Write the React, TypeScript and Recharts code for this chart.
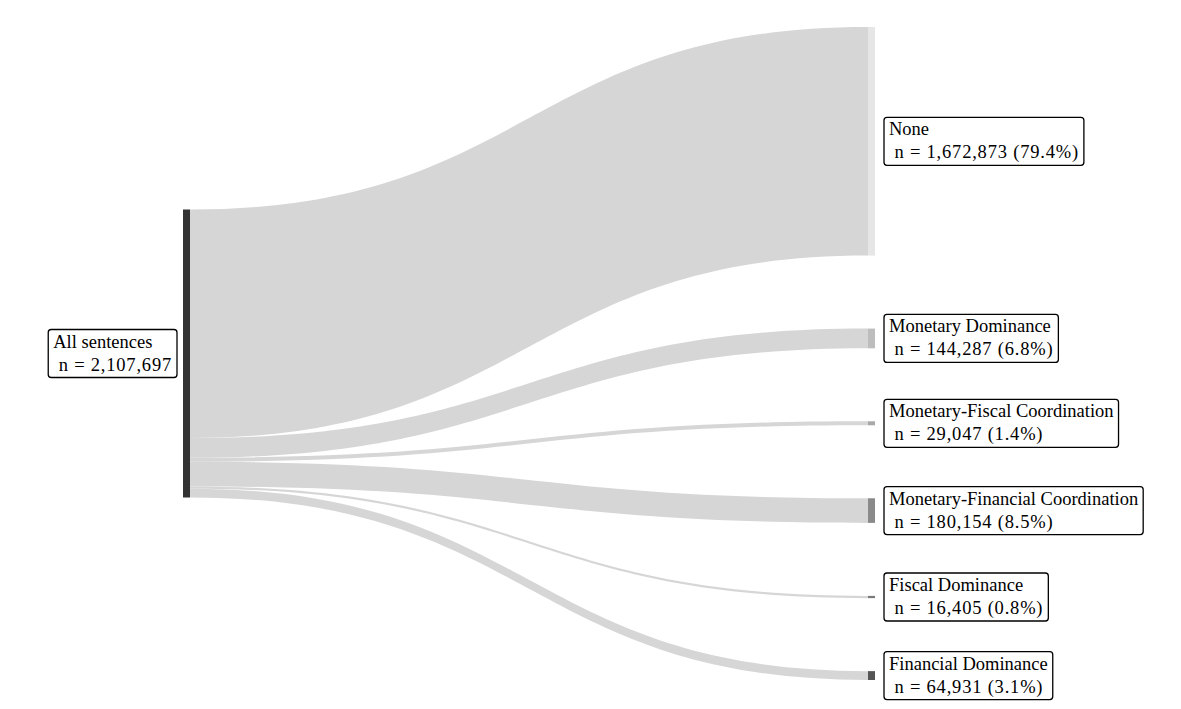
import { useLayoutEffect, useRef, useState } from 'react';
import { Sankey } from 'recharts';

const SOURCE = 'All sentences';
const CATEGORIES = [
	'None',
	'Monetary Dominance',
	'Monetary-Fiscal Coordination',
	'Monetary-Financial Coordination',
	'Fiscal Dominance',
	'Financial Dominance',
];
const COUNTS = [1672873, 144287, 29047, 180154, 16405, 64931];

// source first, then the categories in order
const NODE_COLORS = ['#333333', '#e6e6e6', '#bdbdbd', '#a8a8a8', '#8a8a8a', '#7a7a7a', '#555555'];
const LINK_COLOR = '#d6d6d6';

const WIDTH = 1165;
const HEIGHT = 693;
const MARGIN = { top: 19, right: 298, bottom: 21, left: 175 };
const INNER_H = HEIGHT - MARGIN.top - MARGIN.bottom;

const FONT = '"Liberation Serif", "Times New Roman", serif';
const FONT_SIZE = 18.5;
const BOX_H = 48;
const PAD_X = 5;

const TOTAL = COUNTS.reduce((a, b) => a + b, 0);

const data = {
	nodes: [{ name: SOURCE }, ...CATEGORIES.map((name) => ({ name }))],
	links: CATEGORIES.map((_, i) => ({ source: 0, target: i + 1, value: COUNTS[i] })),
};

const fmt = (v: number) => v.toLocaleString('en-US');

// the source column is drawn in the vertical middle of the plot
const shiftOf = (node: any) =>
	node && typeof node === 'object' && node.depth === 0 ? (INNER_H - node.dy) / 2 - node.y : 0;

function LabelBox({ x, cy, anchor, lines }: { x: number; cy: number; anchor: 'start' | 'end'; lines: string[] }) {
	const ref = useRef<SVGTextElement>(null);
	const [textW, setTextW] = useState(0);

	useLayoutEffect(() => {
		if (ref.current) setTextW(ref.current.getBBox().width);
	}, [lines[0], lines[1]]);

	const boxW = textW + PAD_X * 2;
	const boxX = anchor === 'start' ? x : x - boxW;
	const boxY = cy - BOX_H / 2;

	return (
		<g visibility={textW ? 'visible' : 'hidden'}>
			<rect x={boxX} y={boxY} width={boxW} height={BOX_H} rx={3} fill="#fff" stroke="#000" strokeWidth={1.3} />
			<text ref={ref} fontFamily={FONT} fontSize={FONT_SIZE} fill="#000" style={{ whiteSpace: 'pre' }}>
				<tspan x={boxX + PAD_X} y={boxY + 18}>
					{lines[0]}
				</tspan>
				<tspan x={boxX + PAD_X} y={boxY + 41} letterSpacing={0.8}>
					{lines[1]}
				</tspan>
			</text>
		</g>
	);
}

function SankeyNode(props: any) {
	const { x, y, width, height, index, payload } = props;
	const top = y + shiftOf(payload);
	const isSource = payload.depth === 0;
	const pct = ((payload.value / TOTAL) * 100).toFixed(1);
	const lines = isSource
		? [payload.name, ` n = ${fmt(payload.value)}`]
		: [payload.name, ` n = ${fmt(payload.value)} (${pct}%)`];

	return (
		<g>
			<rect x={x} y={top} width={width} height={height} fill={NODE_COLORS[index]} />
			<LabelBox
				x={isSource ? x - 6 : x + width + 9}
				cy={top + height / 2}
				anchor={isSource ? 'end' : 'start'}
				lines={lines}
			/>
		</g>
	);
}

function SankeyLink(props: any) {
	const { sourceX, sourceY, targetX, targetY, sourceControlX, targetControlX, linkWidth, payload } = props;
	const src = props.sourceRelative ?? payload?.source;
	const tgt = props.targetRelative ?? payload?.target;
	const sy = sourceY + shiftOf(src);
	const ty = targetY + shiftOf(tgt);
	const h = linkWidth / 2;
	const d =
		`M${sourceX},${sy - h} C${sourceControlX},${sy - h} ${targetControlX},${ty - h} ${targetX},${ty - h} ` +
		`L${targetX},${ty + h} C${targetControlX},${ty + h} ${sourceControlX},${sy + h} ${sourceX},${sy + h} Z`;
	return <path d={d} fill={LINK_COLOR} stroke="none" />;
}

export default function App() {
	return (
		<div style={{ width: WIDTH, height: HEIGHT }}>
			<Sankey
				width={WIDTH}
				height={HEIGHT}
				data={data}
				margin={MARGIN}
				nodeWidth={7}
				nodePadding={73}
				iterations={0}
				sort={false}
				linkCurvature={0.5}
				node={(p: any) => <SankeyNode {...p} />}
				link={(p: any) => <SankeyLink {...p} />}
			/>
		</div>
	);
}
